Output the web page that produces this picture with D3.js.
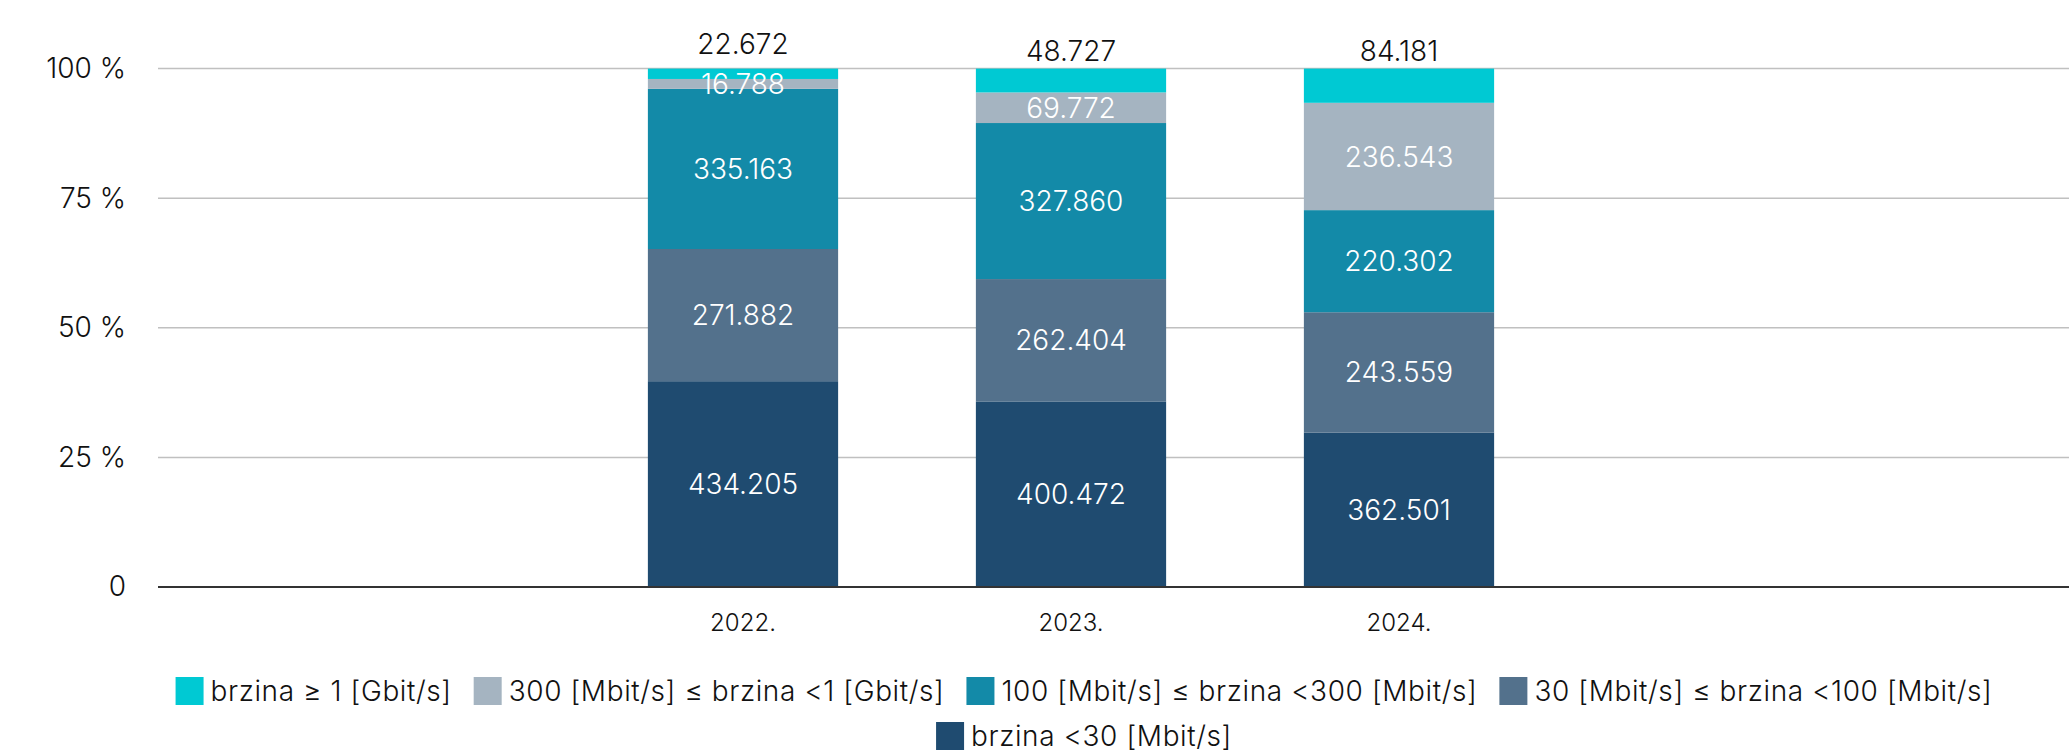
<!DOCTYPE html>
<html>
<head>
<meta charset="utf-8">
<script src="https://cdn.jsdelivr.net/npm/d3@7"></script>
<style>
  body { margin: 0; background: #fff; }
  text { font-family: Inter, "Open Sans", sans-serif; font-weight: 300; }
</style>
</head>
<body>
<div id="chart"></div>
<script>
// godine
var years = ["2022.", "2023.", "2024."];

// serije, od dna prema vrhu
var seriesNames = [
  "brzina <30 [Mbit/s]",
  "30 [Mbit/s] ≤ brzina <100 [Mbit/s]",
  "100 [Mbit/s] ≤ brzina <300 [Mbit/s]",
  "300 [Mbit/s] ≤ brzina <1 [Gbit/s]",
  "brzina ≥ 1 [Gbit/s]"
];

// broj priključaka (oznake na stupcima)
var below30   = [434205, 400472, 362501];
var from30    = [271882, 262404, 243559];
var from100   = [335163, 327860, 220302];
var from300   = [16788, 69772, 236543];
var above1G   = [22672, 48727, 84181];

// udjeli u % (visine stupaca, očitano sa slike)
var below30Pct = [39.7, 35.8, 29.8];
var from30Pct  = [25.5, 23.6, 23.2];
var from100Pct = [30.9, 30.1, 19.7];
var from300Pct = [1.9, 5.9, 20.7];
var above1GPct = [2.0, 4.6, 6.6];

var colors = ["#1f4b70", "#53718c", "#138aa8", "#a5b4c1", "#00c9d3"];

// redoslijed legende
var legendOrder = [4, 3, 2, 1, 0];

var yTicks = [0, 0.25, 0.5, 0.75, 1];

var width = 2069, height = 755;
var plotLeft = 158, plotRight = 2069, plotTop = 68.6, plotBottom = 587;

var allCounts = [below30, from30, from100, from300, above1G];
var allPct = [below30Pct, from30Pct, from100Pct, from300Pct, above1GPct];

// tablica za d3.stack
var table = years.map(function(y, i) {
  var row = { year: y };
  seriesNames.forEach(function(n, k) {
    row[n] = allPct[k][i] / 100;
    row["v" + k] = allCounts[k][i];
  });
  return row;
});

var stacked = d3.stack().keys(seriesNames)(table);

var svg = d3.select("#chart").append("svg")
  .attr("width", width)
  .attr("height", height);

var x = d3.scaleBand()
  .domain(years)
  .range([579, 1563])
  .paddingInner(0.42)
  .paddingOuter(0.21);

var y = d3.scaleLinear()
  .domain([0, 1])
  .range([plotBottom, plotTop]);

// mreža
svg.append("g")
  .selectAll("line")
  .data(yTicks.filter(function(t) { return t > 0; }))
  .enter()
  .append("line")
    .attr("x1", plotLeft)
    .attr("x2", plotRight)
    .attr("y1", function(d) { return y(d); })
    .attr("y2", function(d) { return y(d); })
    .attr("stroke", "#c0c0c0")
    .attr("stroke-width", 1.5);

// y os
var yAxis = d3.axisLeft(y)
  .tickValues(yTicks)
  .tickSize(0)
  .tickPadding(0)
  .tickFormat(function(d) { return d === 0 ? "0" : Math.round(d * 100) + " %"; });

var gy = svg.append("g")
  .attr("transform", "translate(126,0)")
  .call(yAxis);
gy.select(".domain").remove();
gy.selectAll("text")
  .attr("font-size", 28)
  .attr("fill", "#111");

// stupci
var layers = svg.append("g")
  .selectAll("g")
  .data(stacked)
  .enter()
  .append("g")
    .attr("fill", function(d, i) { return colors[i]; });

layers.selectAll("rect")
  .data(function(d) { return d; })
  .enter()
  .append("rect")
    .attr("x", function(d) { return x(d.data.year); })
    .attr("width", x.bandwidth())
    .attr("y", function(d) { return y(d[1]); })
    .attr("height", function(d) { return y(d[0]) - y(d[1]); });

// os x
var gx = svg.append("g")
  .attr("transform", "translate(0," + plotBottom + ")")
  .call(d3.axisBottom(x).tickSize(0).tickPadding(27));
gx.select(".domain").remove();
gx.selectAll("text")
  .attr("font-size", 24)
  .attr("fill", "#111");

svg.append("line")
  .attr("x1", plotLeft)
  .attr("x2", plotRight)
  .attr("y1", plotBottom)
  .attr("y2", plotBottom)
  .attr("stroke", "#333")
  .attr("stroke-width", 2);

// oznake unutar stupaca
var fmt = function(v) { return d3.format(",")(v).replace(/,/g, "."); };
var topIndex = seriesNames.length - 1;

stacked.forEach(function(layer, k) {
  if (k === topIndex) return;
  svg.append("g")
    .selectAll("text")
    .data(layer)
    .enter()
    .append("text")
      .attr("x", function(d) { return x(d.data.year) + x.bandwidth() / 2; })
      .attr("y", function(d) { return y((d[0] + d[1]) / 2); })
      .attr("dy", "0.36em")
      .attr("text-anchor", "middle")
      .attr("font-size", 28)
      .attr("fill", "#fff")
      .text(function(d) { return fmt(d.data["v" + k]); });
});

// oznaka zadnje serije iznad stupca
svg.append("g")
  .selectAll("text")
  .data(stacked[topIndex])
  .enter()
  .append("text")
    .attr("x", function(d) { return x(d.data.year) + x.bandwidth() / 2; })
    .attr("y", function(d, i) {
      var below = stacked[topIndex - 1][i];
      var belowY = y((below[0] + below[1]) / 2);
      return Math.min(y(1) - 18, belowY - 40);
    })
    .attr("dy", "0.36em")
    .attr("text-anchor", "middle")
    .attr("font-size", 28)
    .attr("fill", "#111")
    .text(function(d) { return fmt(d.data["v" + topIndex]); });

// legenda
var legend = svg.append("g");
var rows = [legendOrder.slice(0, 4), legendOrder.slice(4)];
var rowY = [691, 736];
var sq = 28, gapText = 7, gapItem = 22, legendCenter = 1084;

rows.forEach(function(row, r) {
  var g = legend.append("g");
  var cursor = 0;
  row.forEach(function(k) {
    var item = g.append("g").attr("transform", "translate(" + cursor + ",0)");
    item.append("rect")
      .attr("x", 0)
      .attr("y", rowY[r] - sq / 2)
      .attr("width", sq)
      .attr("height", sq)
      .attr("fill", colors[k]);
    var t = item.append("text")
      .attr("x", sq + gapText)
      .attr("y", rowY[r])
      .attr("dy", "0.36em")
      .attr("font-size", 28)
      .attr("letter-spacing", 0.6)
      .attr("fill", "#111")
      .text(seriesNames[k]);
    cursor += sq + gapText + t.node().getComputedTextLength() + gapItem;
  });
  var total = cursor - gapItem;
  g.attr("transform", "translate(" + (legendCenter - total / 2) + ",0)");
});
</script>
</body>
</html>
